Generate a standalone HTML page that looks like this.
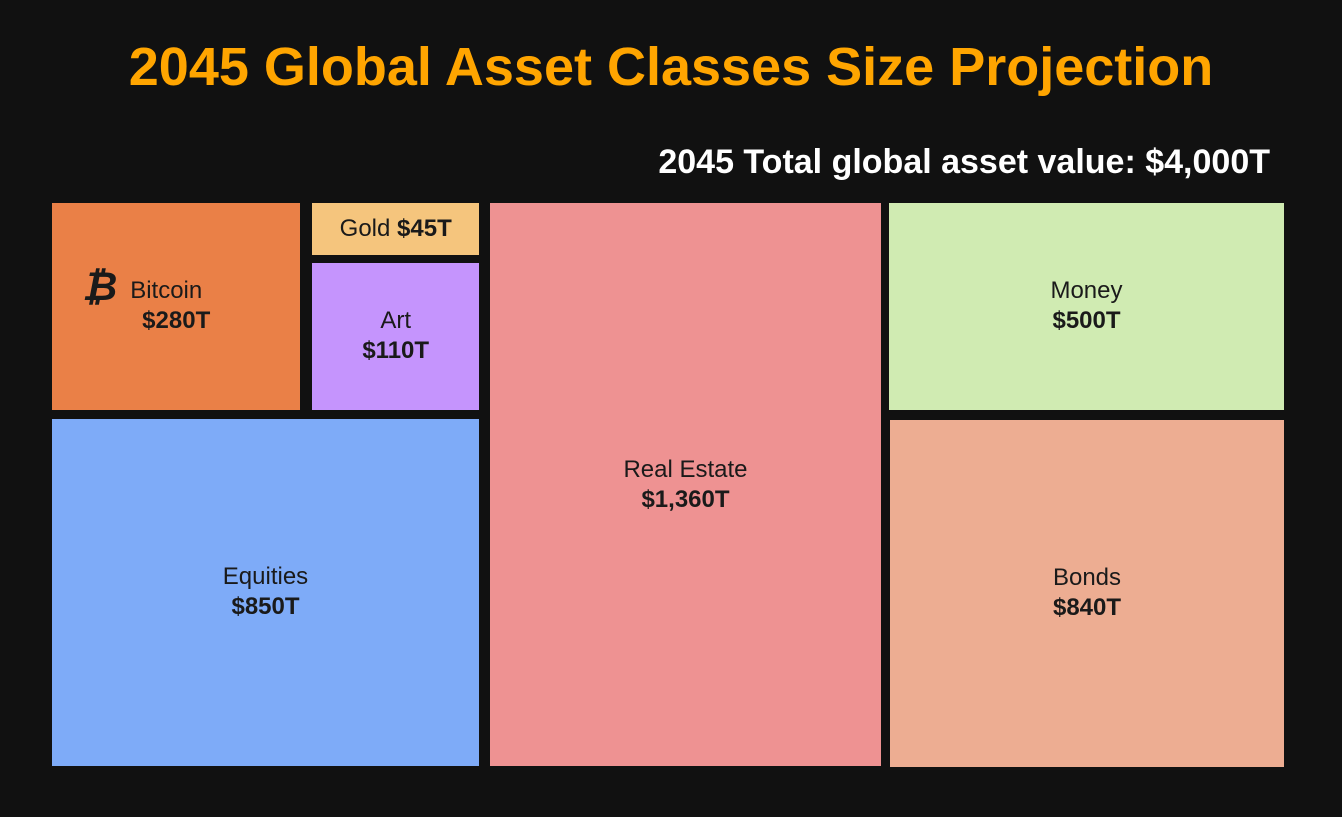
<!DOCTYPE html>
<html><head><meta charset="utf-8">
<style>
html,body{margin:0;padding:0;background:#111111;width:1342px;height:817px;overflow:hidden;font-family:"Liberation Sans",Arial,sans-serif;}
#title{position:absolute;left:0;width:1342px;top:36px;text-align:center;color:#FFA500;font-weight:bold;font-size:54px;}
#subtitle{position:absolute;right:72px;top:143px;color:#fff;font-weight:bold;font-size:34px;}
.tile{position:absolute;display:flex;flex-direction:column;align-items:center;justify-content:center;color:#1a1a1a;font-size:24px;line-height:30px;text-align:center;}
.tile b{font-weight:bold;}
</style></head><body>
<div id="title">2045 Global Asset Classes Size Projection</div>
<div id="subtitle">2045 Total global asset value: $4,000T</div>
<div id="chart"></div>
<script>
const names = ["Bitcoin","Gold","Art","Equities","Real Estate","Money","Bonds"];
const values = [280,45,110,850,1360,500,840];
const labels = ["$280T","$45T","$110T","$850T","$1,360T","$500T","$840T"];
const colors = ["#EA8047","#F5C57D","#C594FD","#7EABF8","#EE9292","#D0EBB2","#EDAD92"];

const X0=52, X1=1285, Y0=203, Y1=767, G=10;
const colW=[427,391,395];
function v(n){return values[names.indexOf(n)];}
const chart=document.getElementById('chart');
function tile(n,x,y,w,h){
  const i=names.indexOf(n);
  const d=document.createElement('div');
  d.className='tile';
  
  
  d.style.left=x+'px';d.style.top=y+'px';d.style.width=w+'px';d.style.height=h+'px';
  d.style.background=colors[i];
  if(n==="Gold"){d.innerHTML='<div>Gold <b>'+labels[i]+'</b></div>';}
  else if(n==="Bitcoin"){d.innerHTML='<div style="position:relative;left:-10px"><span style="position:absolute;left:-48px;top:-4px;font-size:40px;font-weight:bold;font-style:italic">&#8383;</span>Bitcoin</div><div><b>'+labels[i]+'</b></div>';d.style.paddingTop='0';}
  else d.innerHTML='<div>'+n+'</div><div><b>'+labels[i]+'</b></div>';
  chart.appendChild(d);
}
const H=Y1-Y0-G;
// column 3 heights proportional
const topH=H*v("Money")/(v("Money")+v("Bonds"));
const c1x=X0, c2x=X0+colW[0]+G+1, c3x=c2x+colW[1]+G-2;
// col1
const topSum=v("Bitcoin")+v("Gold")+v("Art");
const btW=(colW[0]-G-2)*v("Bitcoin")/topSum*0.93;
tile("Bitcoin",c1x,Y0,btW,topH);
const gaW=colW[0]-btW-G-2;
const gaH=topH-8;
const gH=gaH*v("Gold")/(v("Gold")+v("Art"))*0.9;
tile("Gold",c1x+btW+12,Y0,gaW,gH);
tile("Art",c1x+btW+12,Y0+gH+8,gaW,topH-gH-8);
tile("Equities",c1x,Y0+topH+9,colW[0],Y1-1-(Y0+topH+9));
tile("Real Estate",c2x,Y0,colW[1],Y1-1-Y0);
tile("Money",c3x,Y0,colW[2],topH);
tile("Bonds",c3x+1,Y0+topH+10,colW[2]-1,Y1-(Y0+topH+10));
</script>
</body></html>
